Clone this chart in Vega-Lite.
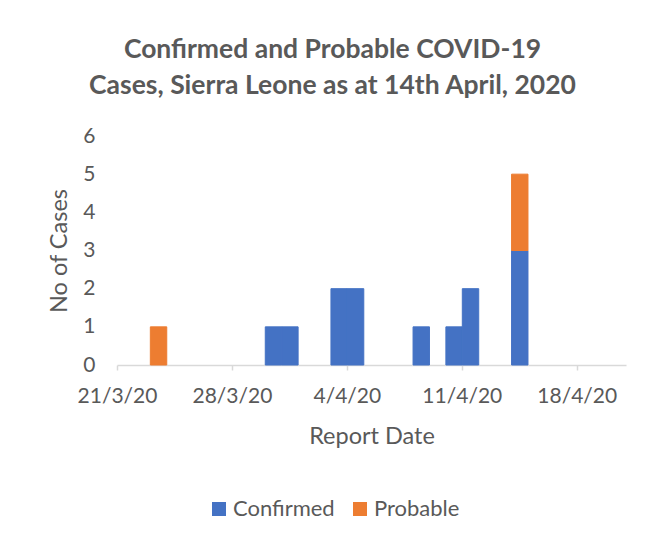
{
  "$schema": "https://vega.github.io/schema/vega-lite/v6.json",
  "autosize": {"type": "none"},
  "width": 509,
  "height": 229,
  "padding": {"left": 117, "top": 136, "right": 23, "bottom": 171},
  "background": "white",
  "title": {
    "text": ["Confirmed and Probable COVID-19", "Cases, Sierra Leone as at 14th April, 2020"],
    "font": "Lato",
    "fontSize": 26.5,
    "fontWeight": "bold",
    "color": "#595959",
    "lineHeight": 36,
    "anchor": "middle",
    "dx": -39,
    "offset": 26
  },
  "data": {
    "values": [
      {"date": "2020-03-23", "type": "Probable", "cases": 1},
      {"date": "2020-03-30", "type": "Confirmed", "cases": 1},
      {"date": "2020-03-31", "type": "Confirmed", "cases": 1},
      {"date": "2020-04-03", "type": "Confirmed", "cases": 2},
      {"date": "2020-04-04", "type": "Confirmed", "cases": 2},
      {"date": "2020-04-08", "type": "Confirmed", "cases": 1},
      {"date": "2020-04-10", "type": "Confirmed", "cases": 1},
      {"date": "2020-04-11", "type": "Confirmed", "cases": 2},
      {"date": "2020-04-14", "type": "Confirmed", "cases": 3},
      {"date": "2020-04-14", "type": "Probable", "cases": 2}
    ]
  },
  "mark": {"type": "bar", "binSpacing": 0, "strokeWidth": 1},
  "encoding": {
    "x": {
      "field": "date",
      "timeUnit": "utcyearmonthdate",
      "type": "temporal",
      "title": "Report Date",
      "scale": {"domain": [{"year": 2020, "month": 3, "date": 21, "utc": true}, {"year": 2020, "month": 4, "date": 21, "utc": true}]},
      "axis": {
        "values": [
          {"year": 2020, "month": 3, "date": 21, "utc": true},
          {"year": 2020, "month": 3, "date": 28, "utc": true},
          {"year": 2020, "month": 4, "date": 4, "utc": true},
          {"year": 2020, "month": 4, "date": 11, "utc": true},
          {"year": 2020, "month": 4, "date": 18, "utc": true}
        ],
        "format": "%-d/%-m/%y",
        "grid": false,
        "domainColor": "#D9D9D9",
        "domainWidth": 1.5,
        "tickColor": "#D9D9D9",
        "tickWidth": 1.5,
        "tickSize": 5,
        "labelPadding": 15,
        "labelFont": "Lato",
        "labelFontSize": 21,
        "labelColor": "#595959",
        "labelFlush": false,
        "labelOverlap": false,
        "titleFont": "Lato",
        "titleFontSize": 23.5,
        "titleFontWeight": "normal",
        "titleColor": "#595959",
        "titlePadding": 18
      }
    },
    "y": {
      "field": "cases",
      "type": "quantitative",
      "aggregate": "sum",
      "title": "No of Cases",
      "scale": {"domain": [0, 6]},
      "axis": {
        "values": [0, 1, 2, 3, 4, 5, 6],
        "grid": false,
        "domain": false,
        "ticks": false,
        "labelPadding": 22,
        "labelFont": "Lato",
        "labelFontSize": 21,
        "labelColor": "#595959",
        "titleFont": "Lato",
        "titleFontSize": 23.5,
        "titleFontWeight": "normal",
        "titleColor": "#595959",
        "titlePadding": 11
      }
    },
    "color": {
      "field": "type",
      "type": "nominal",
      "scale": {"domain": ["Confirmed", "Probable"], "range": ["#4472C4", "#ED7D31"]},
      "legend": {
        "title": null,
        "orient": "none",
        "direction": "horizontal",
        "legendX": 91,
        "legendY": 362,
        "symbolType": "square",
        "symbolSize": 196,
        "symbolStrokeWidth": 0,
        "symbolOpacity": 1,
        "labelFont": "Lato",
        "labelFontSize": 22,
        "labelColor": "#595959",
        "labelOffset": 3,
        "columnPadding": 14
      }
    },
    "stroke": {
      "field": "type",
      "type": "nominal",
      "scale": {"domain": ["Confirmed", "Probable"], "range": ["#4472C4", "#ED7D31"]},
      "legend": null
    },
    "order": {"field": "type", "sort": "ascending"}
  },
  "config": {"view": {"stroke": null}}
}
